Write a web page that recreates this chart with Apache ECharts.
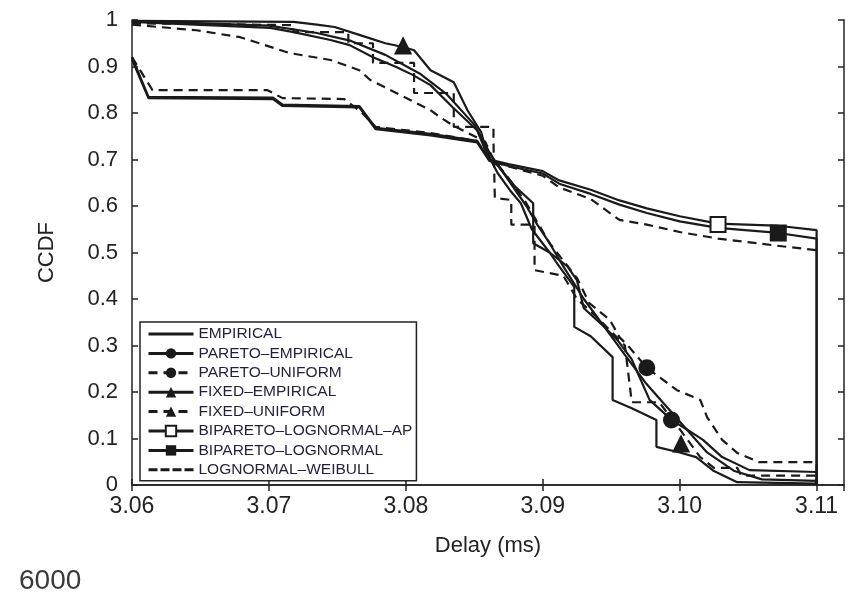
<!DOCTYPE html>
<html>
<head>
<meta charset="utf-8">
<script src="https://cdn.jsdelivr.net/npm/echarts@6/dist/echarts.min.js"></script>
<style>
  html, body { margin: 0; padding: 0; background: #fff; }
  #chart { width: 858px; height: 601px; }
</style>
</head>
<body>
<div id="chart"></div>
<script>
// x tick labels (ms) and y tick labels
const xTicks = ['3.06', '3.07', '3.08', '3.09', '3.10', '3.11'];
const yTicks = ['0', '0.1', '0.2', '0.3', '0.4', '0.5', '0.6', '0.7', '0.8', '0.9', '1'];

// curves: [delay, ccdf]
const empirical = [
  [3.06, 0.996], [3.0701, 0.983], [3.0718, 0.974], [3.0745, 0.957], [3.0759, 0.946],
  [3.0776, 0.92], [3.0793, 0.899], [3.0805, 0.882], [3.0818, 0.86], [3.0834, 0.813],
  [3.0852, 0.763], [3.086, 0.705], [3.0868, 0.684], [3.088, 0.641], [3.0893, 0.606],
  [3.0893, 0.52], [3.0905, 0.5], [3.0912, 0.47], [3.0923, 0.426], [3.0923, 0.34],
  [3.0935, 0.32], [3.0951, 0.275], [3.0951, 0.183], [3.0965, 0.165], [3.0983, 0.14],
  [3.0983, 0.082], [3.1, 0.07], [3.1012, 0.06], [3.1025, 0.03], [3.1042, 0.006],
  [3.11, 0.003], [3.11, 0]
];
const paretoEmpirical = [
  [3.06, 0.998], [3.07, 0.988], [3.0735, 0.972], [3.076, 0.955], [3.0785, 0.925],
  [3.081, 0.885], [3.083, 0.84], [3.085, 0.775], [3.0862, 0.71], [3.0875, 0.655],
  [3.0888, 0.6], [3.0896, 0.56], [3.0905, 0.52], [3.0915, 0.47], [3.093, 0.4],
  [3.0945, 0.34], [3.0955, 0.31], [3.0965, 0.27], [3.0978, 0.183], [3.0994, 0.14],
  [3.1005, 0.12], [3.1017, 0.097], [3.1031, 0.06], [3.1051, 0.032], [3.11, 0.028],
  [3.11, 0]
];
const paretoUniform = [
  [3.06, 0.99], [3.0647, 0.978], [3.0679, 0.963], [3.0715, 0.929], [3.0745, 0.914],
  [3.0766, 0.892], [3.0774, 0.871], [3.0793, 0.843], [3.0818, 0.806], [3.0825, 0.791],
  [3.0834, 0.774], [3.0858, 0.738], [3.0864, 0.7], [3.0875, 0.66], [3.0888, 0.606],
  [3.0905, 0.52], [3.0925, 0.445], [3.0934, 0.391], [3.0949, 0.355], [3.0956, 0.318],
  [3.0963, 0.297], [3.0976, 0.252], [3.0998, 0.204], [3.1015, 0.183], [3.102, 0.146],
  [3.1031, 0.097], [3.1042, 0.069], [3.1058, 0.049], [3.11, 0.049], [3.11, 0]
];
const fixedEmpirical = [
  [3.06, 0.998], [3.0718, 0.996], [3.0735, 0.99], [3.0748, 0.985], [3.0766, 0.968],
  [3.0785, 0.95], [3.0798, 0.942], [3.0806, 0.935], [3.0818, 0.892], [3.0835, 0.866],
  [3.0845, 0.806], [3.0855, 0.759], [3.0857, 0.737], [3.0862, 0.699], [3.0867, 0.671],
  [3.0876, 0.634], [3.0884, 0.606], [3.0892, 0.55], [3.0905, 0.5], [3.0918, 0.47],
  [3.0925, 0.44], [3.093, 0.38], [3.0945, 0.34], [3.096, 0.28], [3.0975, 0.22],
  [3.099, 0.17], [3.1005, 0.12], [3.102, 0.07], [3.104, 0.03], [3.106, 0.012],
  [3.11, 0.009], [3.11, 0]
];
const fixedUniform = [
  [3.06, 0.993], [3.0718, 0.989], [3.0718, 0.974], [3.0758, 0.974], [3.0758, 0.95],
  [3.0776, 0.95], [3.0776, 0.908], [3.0806, 0.908], [3.0806, 0.843], [3.0835, 0.843],
  [3.0835, 0.77], [3.0864, 0.77], [3.0864, 0.738], [3.0865, 0.617], [3.0877, 0.613],
  [3.0877, 0.56], [3.0894, 0.56], [3.0894, 0.462], [3.0915, 0.45], [3.0925, 0.4],
  [3.094, 0.36], [3.096, 0.3], [3.0965, 0.178], [3.0985, 0.178], [3.1, 0.12],
  [3.1015, 0.06], [3.1025, 0.037], [3.1042, 0.037], [3.1045, 0.02], [3.11, 0.02],
  [3.11, 0]
];
const biparetoLognormalAp = [
  [3.06, 0.92], [3.0612, 0.835], [3.0703, 0.833], [3.071, 0.818], [3.0766, 0.815],
  [3.0778, 0.768], [3.0818, 0.755], [3.0852, 0.74], [3.0861, 0.7], [3.0875, 0.69],
  [3.09, 0.675], [3.0912, 0.655], [3.0935, 0.635], [3.0956, 0.612], [3.0976, 0.595],
  [3.1, 0.578], [3.1028, 0.562], [3.107, 0.558], [3.11, 0.548], [3.11, 0]
];
const biparetoLognormal = [
  [3.06, 0.915], [3.0612, 0.832], [3.0703, 0.83], [3.071, 0.815], [3.0766, 0.812],
  [3.0778, 0.765], [3.0818, 0.752], [3.0852, 0.737], [3.0861, 0.697], [3.0875, 0.686],
  [3.09, 0.67], [3.0912, 0.648], [3.0935, 0.626], [3.0956, 0.603], [3.0976, 0.585],
  [3.1, 0.567], [3.1028, 0.553], [3.1072, 0.542], [3.11, 0.53], [3.11, 0]
];
const lognormalWeibull = [
  [3.06, 0.92], [3.0615, 0.849], [3.0699, 0.849], [3.071, 0.832], [3.0755, 0.83],
  [3.0768, 0.8], [3.0778, 0.77], [3.0818, 0.757], [3.0852, 0.74], [3.0861, 0.698],
  [3.0875, 0.685], [3.09, 0.665], [3.0912, 0.64], [3.0935, 0.615], [3.0956, 0.57],
  [3.0976, 0.56], [3.1, 0.544], [3.1028, 0.53], [3.107, 0.515], [3.11, 0.505]
];

// one marker per curve, where the picture shows it
const markParetoEmpirical = [3.0994, 0.14];
const markParetoUniform = [3.0976, 0.252];
const markFixedEmpirical = [3.0798, 0.944];
const markFixedUniform = [3.1001, 0.088];
const markBiparetoAp = [3.1028, 0.56];
const markBipareto = [3.1072, 0.542];

const chart = echarts.init(document.getElementById('chart'));
const ink = '#1a1a1a';

function curve(name, data, dashed, symbol, mark) {
  const s = {
    name: name,
    type: 'line',
    data: data,
    symbol: symbol || 'none',
    showSymbol: false,
    color: ink,
    lineStyle: { color: ink, width: 2.2, type: dashed ? [9, 6] : 'solid' },
    silent: true,
    z: 3
  };
  if (mark) {
    s.markPoint = {
      symbol: symbol,
      symbolSize: 15,
      silent: true,
      label: { show: false },
      itemStyle: { color: ink, borderColor: ink },
      data: [{ coord: mark }]
    };
  }
  return s;
}

const solidIcon = 'path://M0,0h45v3h-45z';
const dashIcon = 'path://M0,0h9v3h-9zM12,0h9v3h-9zM24,0h9v3h-9zM36,0h9v3h-9z';

const axisText = { fontFamily: 'Liberation Sans, Arial, sans-serif', color: '#222' };

chart.setOption({
  animation: false,
  backgroundColor: '#fff',
  title: {
    text: '6000',
    left: 14,
    top: 562,
    textStyle: { fontFamily: 'Liberation Sans, Arial, sans-serif', fontSize: 28, fontWeight: 'normal', color: '#3a3a3a' }
  },
  grid: { left: 132, right: 14, top: 20, bottom: 116 },
  legend: {
    orient: 'vertical',
    left: 140,
    top: 322,
    itemWidth: 45,
    itemHeight: 13,
    itemGap: 3.4,
    padding: [4, 4, 3, 7],
    borderColor: '#222',
    borderWidth: 1.5,
    backgroundColor: '#fff',
    selectedMode: false,
    lineStyle: { width: 3 },
    textStyle: { fontFamily: 'Liberation Sans, Arial, sans-serif', fontSize: 15.5, color: '#241f3a', padding: [0, 0, 0, 0] },
    data: [
      { name: 'EMPIRICAL', icon: solidIcon },
      'PARETO–EMPIRICAL',
      'PARETO–UNIFORM',
      'FIXED–EMPIRICAL',
      'FIXED–UNIFORM',
      'BIPARETO–LOGNORMAL–AP',
      'BIPARETO–LOGNORMAL',
      { name: 'LOGNORMAL–WEIBULL', icon: dashIcon }
    ]
  },
  xAxis: [{
    type: 'value',
    min: 3.06,
    max: 3.112,
    interval: 0.01,
    name: 'Delay (ms)',
    nameLocation: 'middle',
    nameGap: 50,
    nameTextStyle: Object.assign({ fontSize: 22 }, axisText),
    axisLine: { lineStyle: { color: '#222', width: 1.5 } },
    axisTick: { inside: true, length: 6, lineStyle: { color: '#222', width: 1.5 } },
    splitLine: { show: false },
    axisLabel: Object.assign({
      fontSize: 23, margin: 10, showMaxLabel: false,
      formatter: v => {
        const i = Math.round((v - 3.06) / 0.01);
        return Math.abs(v - (3.06 + i * 0.01)) < 1e-6 ? xTicks[i] || '' : '';
      }
    }, axisText)
  }, {
    type: 'value',
    position: 'top',
    min: 3.06,
    max: 3.112,
    interval: 0.01,
    axisLine: { lineStyle: { color: '#222', width: 1.5 } },
    axisTick: { inside: true, length: 6, lineStyle: { color: '#222', width: 1.5 } },
    axisLabel: { show: false },
    splitLine: { show: false }
  }],
  yAxis: [{
    type: 'value',
    min: 0,
    max: 1,
    interval: 0.1,
    name: 'CCDF',
    nameLocation: 'middle',
    nameGap: 74,
    nameTextStyle: Object.assign({ fontSize: 22 }, axisText),
    axisLine: { show: true, lineStyle: { color: '#222', width: 1.5 } },
    axisTick: { show: true, inside: true, length: 6, lineStyle: { color: '#222', width: 1.5 } },
    splitLine: { show: false },
    axisLabel: Object.assign({
      fontSize: 22, margin: 14,
      formatter: v => yTicks[Math.round(v * 10)]
    }, axisText)
  }, {
    type: 'value',
    position: 'right',
    min: 0,
    max: 1,
    interval: 0.1,
    axisLine: { show: true, lineStyle: { color: '#222', width: 1.5 } },
    axisTick: { show: true, inside: true, length: 6, lineStyle: { color: '#222', width: 1.5 } },
    axisLabel: { show: false },
    splitLine: { show: false }
  }],
  series: [
    curve('EMPIRICAL', empirical, false),
    curve('PARETO–EMPIRICAL', paretoEmpirical, false, 'circle', markParetoEmpirical),
    curve('PARETO–UNIFORM', paretoUniform, true, 'circle', markParetoUniform),
    curve('FIXED–EMPIRICAL', fixedEmpirical, false, 'triangle', markFixedEmpirical),
    curve('FIXED–UNIFORM', fixedUniform, true, 'triangle', markFixedUniform),
    curve('BIPARETO–LOGNORMAL–AP', biparetoLognormalAp, false, 'emptyRect', markBiparetoAp),
    curve('BIPARETO–LOGNORMAL', biparetoLognormal, false, 'rect', markBipareto),
    curve('LOGNORMAL–WEIBULL', lognormalWeibull, true)
  ]
});
</script>
</body>
</html>
